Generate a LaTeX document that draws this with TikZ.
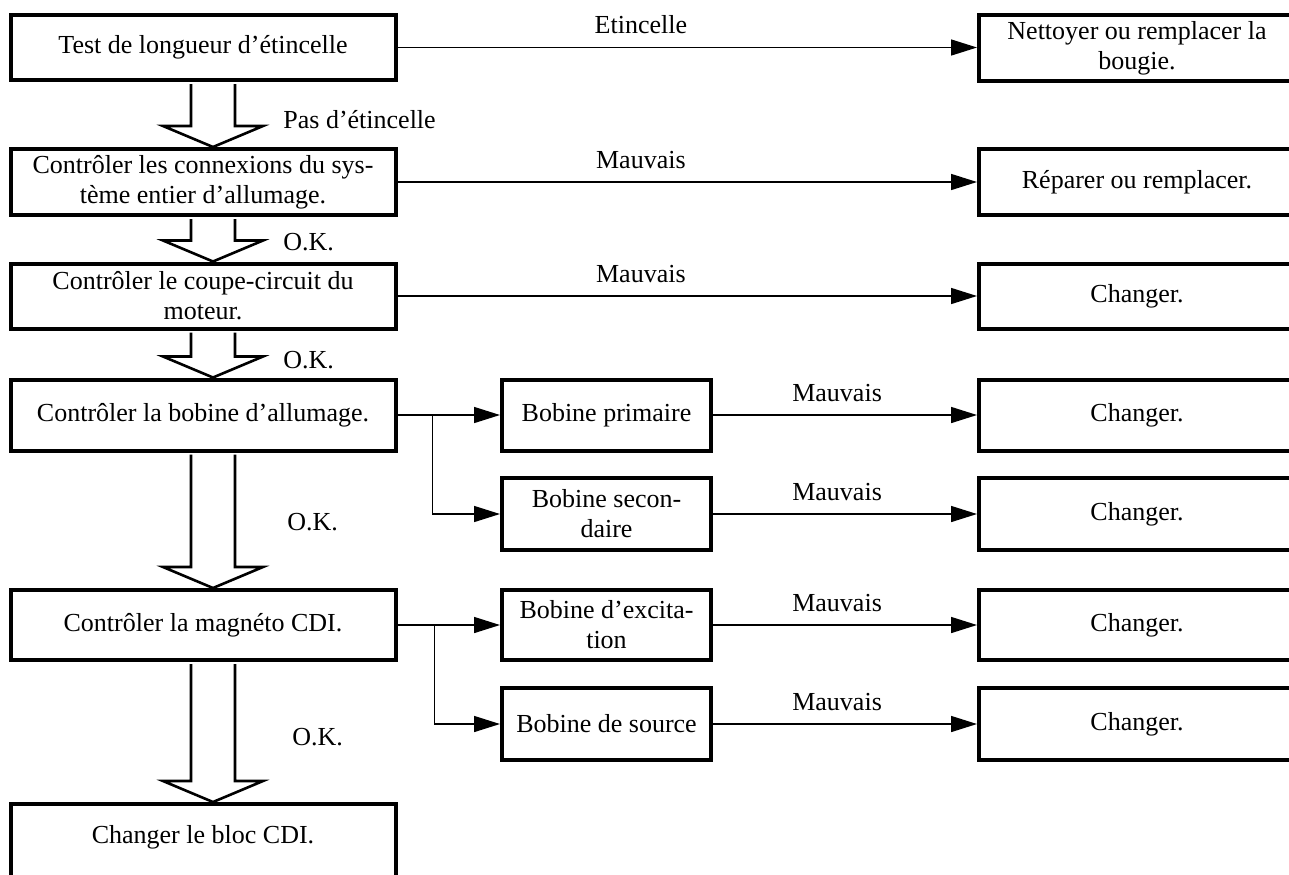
\documentclass[tikz,border=0pt]{standalone}
\usepackage{fontspec}
\setmainfont{Liberation Serif}
\usetikzlibrary{arrows.meta,calc}
\newcommand\hollowarrow[2]{%
 \path[hollow] let \p1=(#1.south), \p2=(#2.north) in
  (\x1-6pt,\y1-1pt) -- (\x1-6pt,\y2+10.5pt) -- (\x1-20pt,\y2+10.5pt) -- (\x1+5pt,\y2)
  -- (\x1+30pt,\y2+10.5pt) -- (\x1+16pt,\y2+10.5pt) -- (\x1+16pt,\y1-1pt);}
\begin{document}
\begin{tikzpicture}[x=0.5pt,y=-0.5pt,
  every node/.style={font=\fontsize{13pt}{15pt}\selectfont},
  box/.style={draw, line width=2pt, align=center, inner sep=0pt},
  lbox/.style={box, minimum width=192.5pt},
  mbox/.style={box, minimum width=104.5pt},
  rbox/.style={box, minimum width=158pt},
  conn/.style={line width=0.75pt, -{Triangle[length=13pt,width=8pt]}},
  hollow/.style={draw, fill=white, line width=1.3pt, line join=miter},
  lab/.style={inner sep=0pt},
  elab/.style={inner sep=0pt, anchor=base, yshift=7pt}]
\useasboundingbox (0,0) rectangle (1289,874);
\clip (0,0) rectangle (1289,874);
% left column
\node[lbox, minimum height=32.5pt] (b1) at (203,47.5) {Test de longueur d’étincelle};
\node[lbox, minimum height=33pt] (b2) at (203,182) {Contrôler les connexions du sys-\\tème entier d’allumage.};
\node[lbox, minimum height=32.5pt] (b3) at (203,296) {Contrôler le coupe-circuit du\\moteur.};
\node[lbox, minimum height=35.5pt] (b4) at (203,415) {Contrôler la bobine d’allumage.};
\node[lbox, minimum height=35pt] (b5) at (203,625) {Contrôler la magnéto CDI.};
\node[lbox, minimum height=50pt] (b6) at (203,854) {};
\node (b6t) at (203,837) {Changer le bloc CDI.};
% middle column
\node[mbox, minimum height=35.5pt] (m1) at (606.5,415) {Bobine primaire};
\node[mbox, minimum height=36pt] (m2) at (606.5,514) {Bobine secon-\\daire};
\node[mbox, minimum height=35pt] (m3) at (606.5,625) {Bobine d’excita-\\tion};
\node[mbox, minimum height=36pt] (m4) at (606.5,724) {Bobine de source};
% right column
\node[rbox, minimum height=33pt] (r1) at (1137,48) {Nettoyer ou remplacer la\\bougie.};
\node[rbox, minimum height=33pt] (r2) at (1137,182) {Réparer ou remplacer.};
\node[rbox, minimum height=32.5pt] (r3) at (1137,296) {Changer.};
\node[rbox, minimum height=35.5pt] (r4) at (1137,415) {Changer.};
\node[rbox, minimum height=36pt] (r5) at (1137,514) {Changer.};
\node[rbox, minimum height=35pt] (r6) at (1137,625) {Changer.};
\node[rbox, minimum height=36pt] (r7) at (1137,724) {Changer.};
% hollow arrows
\hollowarrow{b1}{b2}
\hollowarrow{b2}{b3}
\hollowarrow{b3}{b4}
\hollowarrow{b4}{b5}
\hollowarrow{b5}{b6}
\node[lab, anchor=west] (l1) at (283,120) {Pas d’étincelle};
\node[lab, anchor=west] (l2) at (283,242) {O.K.};
\node[lab, anchor=west] (l3) at (283,360) {O.K.};
\node[lab, anchor=west] (l4) at (287,522) {O.K.};
\node[lab, anchor=west] (l5) at (292,737) {O.K.};
% long connectors
\draw[conn] (b1.east) -- node[elab, pos=0.42] {Etincelle} (b1.east -| r1.west);
\draw[conn] (b2.east) -- node[elab, pos=0.42] {Mauvais} (b2.east -| r2.west);
\draw[conn] (b3.east) -- node[elab, pos=0.42] {Mauvais} (b3.east -| r3.west);
% branches
\coordinate (j1) at ($(b4.east)+(35,0)$);
\coordinate (j2) at ($(b5.east)+(37,0)$);
\draw[conn] (b4.east) -- (m1.west);
\draw[conn] (j1) |- (m2.west);
\draw[conn] (b5.east) -- (m3.west);
\draw[conn] (j2) |- (m4.west);
% short connectors
\draw[conn] (m1.east) -- node[elab, pos=0.47] {Mauvais} (r4.west);
\draw[conn] (m2.east) -- node[elab, pos=0.47] {Mauvais} (r5.west);
\draw[conn] (m3.east) -- node[elab, pos=0.47] {Mauvais} (r6.west);
\draw[conn] (m4.east) -- node[elab, pos=0.47] {Mauvais} (r7.west);
\end{tikzpicture}
\end{document}
